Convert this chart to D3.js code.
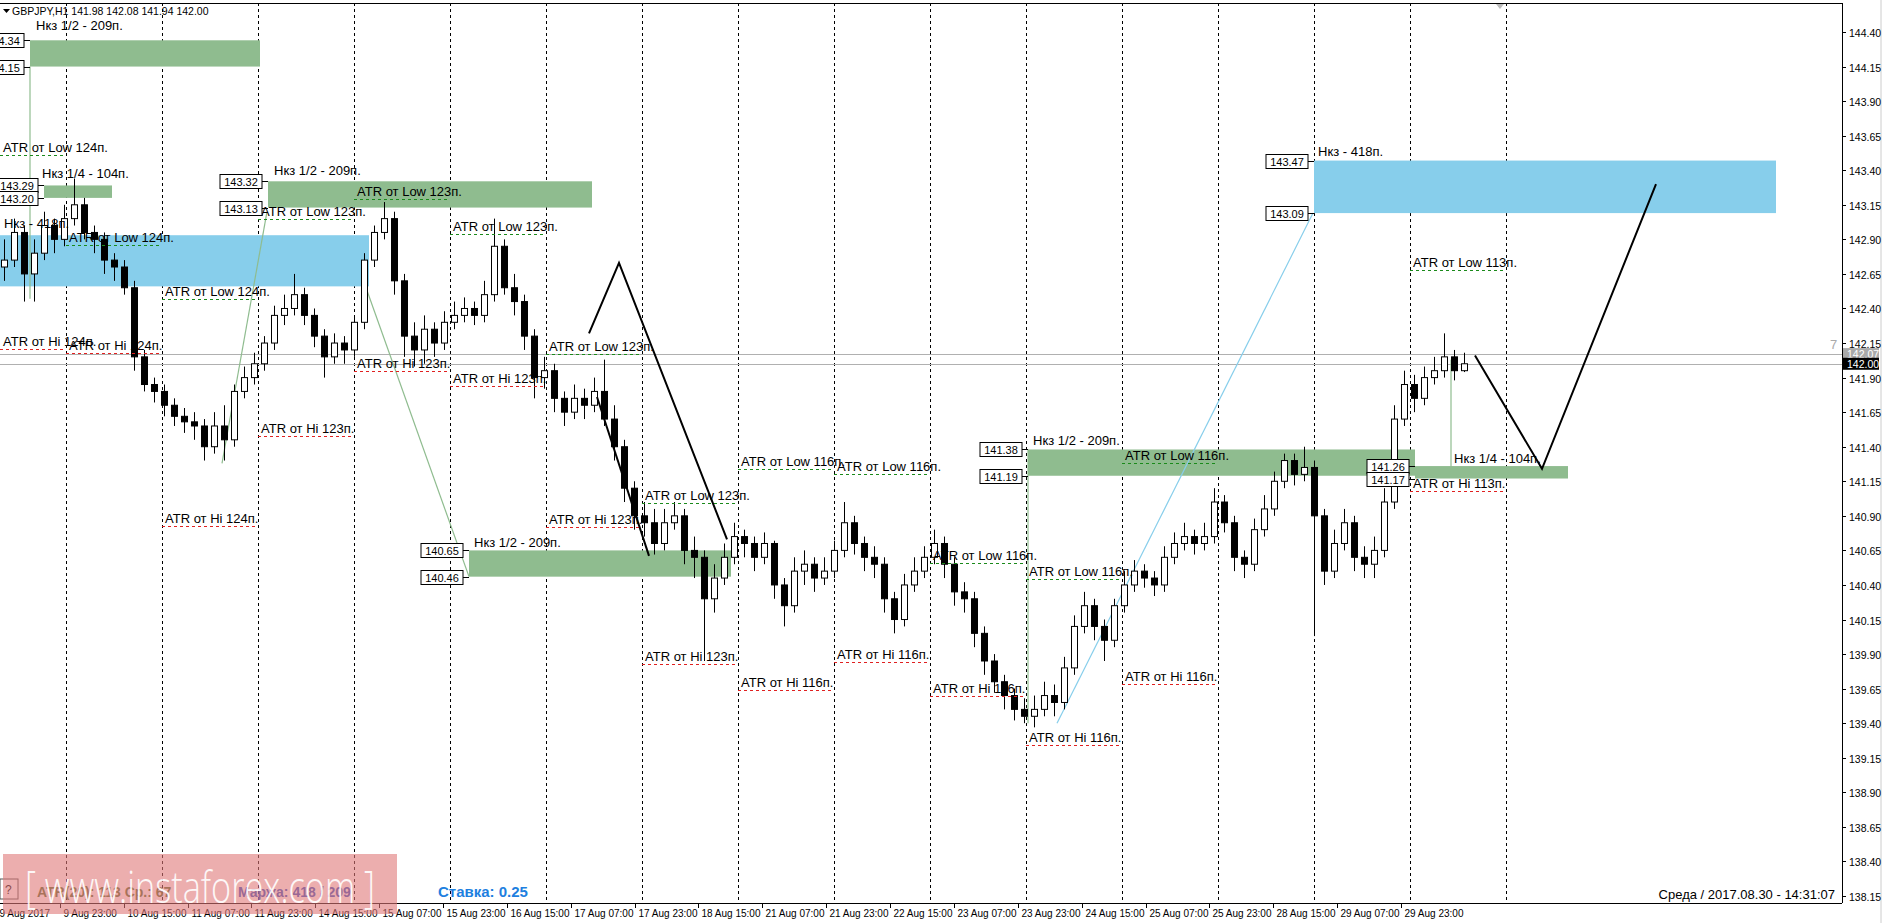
<!DOCTYPE html>
<html><head><meta charset="utf-8">
<script src="https://cdn.jsdelivr.net/npm/d3@7"></script>
<style>body{margin:0;background:#fff;overflow:hidden}svg{display:block;font-family:"Liberation Sans",Arial,sans-serif}</style>
</head><body>
<svg id="c" width="1884" height="923"></svg>
<script>
// ---------- DATA ----------
const firstOpen = 142.70;
const closes = [142.75,142.95,142.65,142.80,143.00,142.90,143.05,143.15,142.95,142.90,142.75,142.70,142.55,142.05,141.85,141.80,141.70,141.62,141.58,141.55,
141.40,141.55,141.45,141.80,141.90,142.00,142.15,142.35,142.40,142.50,142.35,142.20,142.05,142.15,142.10,142.30,142.75,142.95,143.05,142.60,
142.20,142.10,142.25,142.15,142.30,142.35,142.40,142.35,142.50,142.85,142.55,142.45,142.20,141.90,141.95,141.75,141.65,141.75,141.70,141.80,
141.60,141.40,141.10,140.90,140.85,140.70,140.85,140.90,140.65,140.60,140.30,140.45,140.60,140.75,140.70,140.60,140.70,140.40,140.25,140.50,
140.55,140.45,140.50,140.65,140.85,140.70,140.60,140.55,140.30,140.15,140.40,140.50,140.60,140.70,140.55,140.35,140.30,140.05,139.85,139.70,
139.60,139.50,139.45,139.50,139.60,139.55,139.80,140.10,140.25,140.10,140.00,140.25,140.40,140.50,140.45,140.40,140.60,140.70,140.75,140.70,
140.75,141.00,140.85,140.60,140.55,140.80,140.95,141.15,141.30,141.20,141.25,140.90,140.50,140.70,140.85,140.60,140.55,140.65,141.00,141.60,
141.85,141.75,141.90,141.95,142.05,141.95,142.00];
const highs = [142.90,143.05,143.00,142.90,143.10,143.05,143.15,143.34,143.20,143.00,142.95,142.80,142.75,142.60,142.10,141.90,141.85,141.75,141.68,141.65,
141.60,141.65,141.70,141.85,141.98,142.08,142.20,142.42,142.50,142.65,142.55,142.40,142.25,142.22,142.20,142.35,142.80,143.00,143.17,143.10,
142.65,142.30,142.35,142.30,142.38,142.45,142.48,142.45,142.60,143.05,142.90,142.65,142.50,142.25,142.05,142.00,141.80,141.85,141.82,141.90,
142.03,141.70,141.45,141.15,141.00,140.95,140.95,141.00,140.95,140.75,140.65,140.55,140.70,140.85,140.80,140.75,140.78,140.72,140.45,140.60,
140.65,140.60,140.60,140.72,141.00,140.90,140.75,140.68,140.60,140.35,140.48,140.60,140.68,140.80,140.75,140.60,140.42,140.35,140.10,139.90,
139.75,139.65,139.58,139.60,139.70,139.68,139.88,140.18,140.35,140.30,140.15,140.30,140.50,140.58,140.55,140.50,140.68,140.78,140.85,140.80,
140.85,141.10,141.05,140.90,140.65,140.88,141.05,141.22,141.35,141.35,141.40,141.30,140.95,140.80,140.95,140.90,140.68,140.75,141.10,141.70,
141.95,141.92,141.98,142.05,142.22,142.10,142.08];
const lows = [142.60,142.70,142.45,142.45,142.75,142.80,142.85,143.00,142.90,142.80,142.65,142.60,142.50,141.95,141.80,141.72,141.62,141.55,141.50,141.45,
141.30,141.35,141.30,141.40,141.75,141.85,141.95,142.10,142.28,142.35,142.28,142.12,141.90,142.00,142.00,142.05,142.25,142.70,142.90,142.50,
142.05,141.98,142.00,142.05,142.10,142.25,142.30,142.28,142.30,142.45,142.50,142.35,142.10,141.75,141.82,141.65,141.55,141.60,141.60,141.65,
141.55,141.30,141.00,140.80,140.75,140.62,140.65,140.80,140.55,140.45,139.85,140.20,140.40,140.55,140.60,140.50,140.55,140.30,140.10,140.20,
140.40,140.35,140.40,140.45,140.60,140.62,140.50,140.45,140.20,140.05,140.10,140.35,140.45,140.55,140.45,140.25,140.20,139.95,139.75,139.62,
139.50,139.42,139.40,139.37,139.45,139.45,139.50,139.75,140.05,140.00,139.85,139.95,140.20,140.35,140.38,140.32,140.35,140.55,140.65,140.62,
140.65,140.70,140.78,140.50,140.45,140.50,140.75,140.90,141.10,141.12,141.15,140.03,140.40,140.45,140.65,140.50,140.45,140.45,140.60,140.95,
141.55,141.65,141.70,141.85,141.90,141.88,141.94];

const priceTicks = [138.15,138.40,138.65,138.90,139.15,139.40,139.65,139.90,140.15,140.40,140.65,140.90,141.15,141.40,141.65,141.90,142.15,142.40,142.65,142.90,143.15,143.40,143.65,143.90,144.15,144.40];
const timeLabels = ["9 Aug 2017","9 Aug 23:00","10 Aug 15:00","11 Aug 07:00","11 Aug 23:00","14 Aug 15:00","15 Aug 07:00","15 Aug 23:00","16 Aug 15:00","17 Aug 07:00","17 Aug 23:00","18 Aug 15:00","21 Aug 07:00","21 Aug 23:00","22 Aug 15:00","23 Aug 07:00","23 Aug 23:00","24 Aug 15:00","25 Aug 07:00","25 Aug 23:00","28 Aug 15:00","29 Aug 07:00","29 Aug 23:00"];
const timePos = [-0.8,5.6,12.0,18.4,24.7,31.1,37.5,43.9,50.3,56.7,63.1,69.4,75.8,82.2,88.6,95.0,101.4,107.8,114.2,120.5,126.9,133.3,139.7];
const dayLines = [6.2,15.8,25.4,35.0,44.6,54.2,63.8,73.4,83.0,92.6,102.2,111.8,121.4,131.0,140.6,150.2];

// zones
const zoneStart = [2.6,4.0,-1,26.4,46.5,102.4,131.0,141.1];
const zoneEnd   = [25.6,10.8,36.5,58.8,72.7,141.1,177.2,156.4];
const zoneTop   = [144.34,143.29,142.93,143.32,140.65,141.38,143.47,141.26];
const zoneBot   = [144.15,143.20,142.56,143.13,140.46,141.19,143.09,141.17];
const zoneKind  = ["g","g","b","g","g","g","b","g"];
const zoneBoxes = [true,true,false,true,true,true,true,true];
const zoneLabel = ["Нкз 1/2 - 209п.","Нкз 1/4 - 104п.","Нкз - 418п.","Нкз 1/2 - 209п.","Нкз 1/2 - 209п.","Нкз 1/2 - 209п.","Нкз - 418п.","Нкз 1/4 - 104п."];
const zoneLabelX = [3.2,3.8,0,27.0,47.0,102.9,131.4,145.0];
const zoneLabelP = [144.45,143.38,143.02,143.40,140.71,141.45,143.54,141.32];

// ATR levels: period index (-1 = before first day line)
const atrLowPeriod = [-1,0,1,2,3,4,5,6,7,8,9,10,11,14];
const atrLowPrice  = [143.51,142.86,142.47,143.05,143.19,142.94,142.07,140.99,141.24,141.20,140.56,140.44,141.28,142.68];
const atrLowPips   = [124,124,124,123,123,123,123,123,116,116,116,116,116,113];
const atrHiPeriod  = [-1,0,1,2,3,4,5,6,7,8,9,10,11,14];
const atrHiPrice   = [142.11,142.08,140.83,141.48,141.95,141.84,140.82,139.83,139.64,139.84,139.60,139.24,139.68,141.08];
const atrHiPips    = [124,124,124,123,123,123,123,123,116,116,116,116,116,113];

// thin connector lines [x1,p1,x2,p2]
const thinGreen = [[2.6,144.15,2.6,142.47],[21.8,141.28,26.3,143.10],[36.2,142.55,46.5,140.46],[102.4,141.38,102.4,139.40],[144.7,142.03,144.7,141.22]];
const thinBlue = [[105.3,139.40,130.9,143.09]];
// forecast paths
const pathA = [[58.5,142.22],[61.5,142.73],[72.3,140.73]];
const pathB = [[59.3,141.76],[64.5,140.61]];
const pathC = [[147.1,142.06],[153.8,141.24],[165.2,143.30]];

const bid = 142.00, ask = 142.07;

// ---------- DRAW ----------
const svg = d3.select("#c");
const W = 1842, TOP = 3, BOT = 903;
const x = d3.scaleLinear().domain([0,146]).range([4,1464]);
const y = d3.scaleLinear().domain([138.15,144.40]).range([896,32]);
const G = "#8fbc8f", B = "#87ceeb";

const plot = svg.append("g");
svg.append("defs").append("clipPath").attr("id","cp").append("rect").attr("x",0).attr("y",TOP).attr("width",W).attr("height",BOT-TOP);
plot.attr("clip-path","url(#cp)");

plot.selectAll(".dl").data(dayLines).join("line").attr("x1",d=>Math.round(x(d))+.5).attr("x2",d=>Math.round(x(d))+.5)
  .attr("y1",TOP).attr("y2",BOT).attr("stroke","#000").attr("stroke-dasharray","3,3");

[ask,bid].forEach(p=>plot.append("line").attr("x1",0).attr("x2",W).attr("y1",Math.round(y(p))+.5).attr("y2",Math.round(y(p))+.5).attr("stroke","#b0b0b0"));

zoneStart.forEach((s,i)=>{
  plot.append("rect").attr("x",x(s)).attr("y",y(zoneTop[i])).attr("width",x(zoneEnd[i])-x(s)).attr("height",y(zoneBot[i])-y(zoneTop[i]))
    .attr("fill",zoneKind[i]=="g"?G:B);
});

thinGreen.forEach(l=>plot.append("line").attr("x1",x(l[0])).attr("y1",y(l[1])).attr("x2",x(l[2])).attr("y2",y(l[3])).attr("stroke",G).attr("stroke-width",1.2));
thinBlue.forEach(l=>plot.append("line").attr("x1",x(l[0])).attr("y1",y(l[1])).attr("x2",x(l[2])).attr("y2",y(l[3])).attr("stroke",B).attr("stroke-width",1.2));

const opens = closes.map((c,i)=>i==0?firstOpen:closes[i-1]);
const cg = plot.append("g");
closes.forEach((c,i)=>{
  const cx = Math.round(x(i))+.5, o=opens[i];
  cg.append("line").attr("x1",cx).attr("x2",cx).attr("y1",y(highs[i])).attr("y2",y(lows[i])).attr("stroke","#000");
  const t=y(Math.max(o,c)), b=y(Math.min(o,c));
  cg.append("rect").attr("x",cx-3).attr("y",t).attr("width",6).attr("height",Math.max(1,b-t))
    .attr("fill",c>=o?"#fff":"#000").attr("stroke","#000");
});

const segX = k => k<0 ? 0 : x(dayLines[k]);
function atr(periods, prices, pips, color, word){
  periods.forEach((k,i)=>{
    const x1=segX(k), x2=x(dayLines[k+1]), yy=Math.round(y(prices[i]))+.5;
    plot.append("line").attr("x1",x1).attr("x2",x2).attr("y1",yy).attr("y2",yy).attr("stroke",color).attr("stroke-dasharray","3,3");
    plot.append("text").attr("x",x1+3).attr("y",yy-4).attr("font-size",13).attr("fill","#000").text(`ATR от ${word} ${pips[i]}п.`);
  });
}
atr(atrLowPeriod,atrLowPrice,atrLowPips,"#1a8a1a","Low");
atr(atrHiPeriod,atrHiPrice,atrHiPips,"#e02020","Hi");

zoneStart.forEach((s,i)=>{
  plot.append("text").attr("x",x(zoneLabelX[i])).attr("y",y(zoneLabelP[i])+5).attr("font-size",13).attr("fill","#000").text(zoneLabel[i]);
  if(zoneBoxes[i]){
    [zoneTop[i],zoneBot[i]].forEach(p=>{
      const yy=Math.round(y(p))+.5, bx=x(s)-6;
      plot.append("line").attr("x1",bx).attr("x2",x(s)).attr("y1",yy).attr("y2",yy).attr("stroke","#000");
      plot.append("rect").attr("x",bx-42).attr("y",yy-7).attr("width",42).attr("height",14).attr("fill","#fff").attr("stroke","#000");
      plot.append("text").attr("x",bx-21).attr("y",yy+4).attr("text-anchor","middle").attr("font-size",11).text(p.toFixed(2));
    });
  }
});

const ln = d3.line().x(d=>x(d[0])).y(d=>y(d[1]));
[pathA,pathB,pathC].forEach(p=>plot.append("path").attr("d",ln(p)).attr("fill","none").attr("stroke","#000").attr("stroke-width",2));

svg.append("line").attr("x1",0).attr("x2",W).attr("y1",TOP+.5).attr("y2",TOP+.5).attr("stroke","#000");
svg.append("line").attr("x1",W+.5).attr("x2",W+.5).attr("y1",TOP).attr("y2",BOT).attr("stroke","#000");
svg.append("line").attr("x1",0).attr("x2",W).attr("y1",BOT+.5).attr("y2",BOT+.5).attr("stroke","#000");
svg.append("line").attr("x1",1884-3).attr("x2",1884-3).attr("y1",0).attr("y2",923).attr("stroke","#ccc");

priceTicks.forEach(p=>{
  const yy=Math.round(y(p))+.5;
  svg.append("line").attr("x1",W).attr("x2",W+4).attr("y1",yy).attr("y2",yy).attr("stroke","#000");
  svg.append("text").attr("x",W+7).attr("y",yy+4).attr("font-size",10.5).text(p.toFixed(2));
});
[[ask,"#a9a9a9","#fff"],[bid,"#000","#fff"]].forEach(([p,bg,fg])=>{
  const yy=y(p);
  svg.append("rect").attr("x",W+1).attr("y",yy-6).attr("width",36).attr("height",12).attr("fill",bg);
  svg.append("text").attr("x",W+5).attr("y",yy+4).attr("font-size",10.5).attr("fill",fg).text(p.toFixed(2));
});
svg.append("text").attr("x",1830).attr("y",349).attr("font-size",13).attr("fill","#aaa").text("7");

timeLabels.forEach((t,i)=>{
  const xx=Math.round(x(timePos[i]))+.5;
  svg.append("line").attr("x1",xx).attr("x2",xx).attr("y1",BOT).attr("y2",BOT+5).attr("stroke","#000");
  svg.append("text").attr("x",xx+3).attr("y",BOT+14).attr("font-size",10).text(t);
});

svg.append("path").attr("d","M3,9 L10,9 L6.5,13 Z").attr("fill","#000");
svg.append("text").attr("x",12).attr("y",15).attr("font-size",10.5).text("GBPJPY,H1  141.98 142.08 141.94 142.00");
svg.append("path").attr("d","M1496,4 L1504,4 L1500,9 Z").attr("fill","#bbb");

svg.append("text").attr("x",1835).attr("y",899).attr("text-anchor","end").attr("font-size",13).text("Среда  /  2017.08.30  -  14:31:07");

svg.append("rect").attr("x",0).attr("y",879).attr("width",18).attr("height",20).attr("fill","#fff").attr("stroke","#555");
svg.append("text").attr("x",5).attr("y",894).attr("font-size",12).text("?");
svg.append("text").attr("x",37).attr("y",897).attr("font-size",14).attr("font-weight","bold").attr("fill","#556b2f").text("ATR(20): 113  Ср.: 67");
svg.append("text").attr("x",238).attr("y",897).attr("font-size",14).attr("font-weight","bold").attr("fill","#3050c0").text("Маржа: 418 / 209");
svg.append("text").attr("x",438).attr("y",897).attr("font-size",15).attr("font-weight","bold").attr("fill","#1e7fe0").text("Ставка: 0.25");
svg.append("rect").attr("x",3).attr("y",854).attr("width",394).attr("height",60).attr("fill","#e07878").attr("opacity",0.6);
svg.append("text").attr("x",25).attr("y",903).attr("font-size",44).attr("font-family","'Open Sans',sans-serif").attr("font-weight",300)
  .attr("textLength",350).attr("lengthAdjust","spacingAndGlyphs").attr("fill","#fff").attr("opacity",0.9).text("[ www.instaforex.com ]");
</script>
</body></html>
